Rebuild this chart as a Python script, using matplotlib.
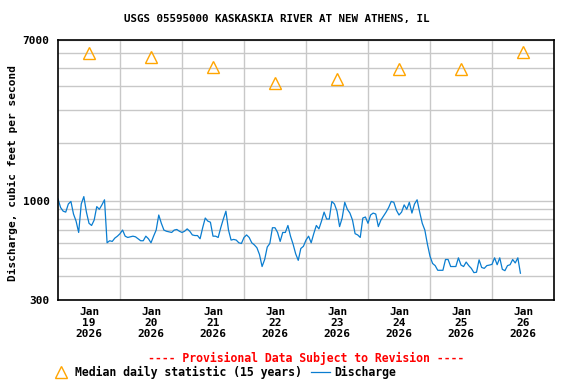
import matplotlib
matplotlib.use("Agg")
import matplotlib.pyplot as plt
import pandas as pd

plt.rcParams['font.family'] = ['DejaVu Sans Mono']
plt.rcParams['font.weight'] = 'bold'

title = "USGS 05595000 KASKASKIA RIVER AT NEW ATHENS, IL"
start = "2026-01-19 00:00"

# hourly discharge, cfs
flow = [1020, 920, 880, 870, 960, 990, 850, 780, 680, 960, 1050, 870,
        760, 740, 790, 930, 900, 950, 1010, 600, 615, 610, 635, 650,
        670, 700, 650, 640, 645, 650, 645, 630, 615, 615, 650, 630,
        600, 650, 700, 840, 760, 700, 690, 685, 680, 700, 705, 690,
        680, 690, 710, 690, 660, 655, 655, 630, 720, 810, 780, 770,
        650, 650, 640, 720, 800, 880, 700, 620, 625, 620, 600, 595,
        640, 660, 640, 600, 585, 565, 520, 450, 490, 570, 595, 720,
        720, 680, 610, 680, 680, 740, 650, 590, 525, 485, 560, 575,
        620, 650, 600, 670, 740, 710, 780, 870, 800, 800, 990, 960,
        880, 730, 810, 980, 900, 860, 790, 670, 660, 640, 810, 820,
        760, 840, 860, 850, 730, 790, 830, 870, 920, 990, 980, 890,
        840, 870, 950, 900, 980, 860, 960, 1010, 870, 760, 700, 590,
        510, 467, 455, 430, 430, 430, 490, 490, 450, 450, 450, 500,
        458, 450, 475, 455, 440, 418, 420, 488, 445, 440, 455, 458,
        462, 500, 460, 500, 435, 428, 455, 460, 490, 470, 500, 415]

median_days = ["2026-01-19 12:00", "2026-01-20 12:00", "2026-01-21 12:00",
               "2026-01-22 12:00", "2026-01-23 12:00", "2026-01-24 12:00",
               "2026-01-25 12:00", "2026-01-26 12:00"]
median_vals = [5950, 5700, 5050, 4170, 4350, 4950, 4950, 6050]

yticks = [300, 1000, 7000]
ygrid = [400, 500, 600, 700, 800, 900, 2000, 3000, 4000, 5000, 6000]

times = pd.date_range(start, periods=len(flow), freq="h")
mdays = pd.to_datetime(median_days)

fig = plt.figure(figsize=(5.76, 3.84), dpi=100)
ax = fig.add_axes([58 / 576, 84 / 384, 496 / 576, 260 / 384])

med, = ax.plot(mdays, median_vals, linestyle="none", marker="^", markersize=8,
               markerfacecolor="none", markeredgecolor="#FFA500", markeredgewidth=1.0,
               label="Median daily statistic (15 years)")
dis, = ax.plot(times, flow, color="#0a7dd0", lw=0.9, label="Discharge")

ax.set_yscale("log")
ax.set_ylim(300, 7000)
ax.set_yticks(yticks)
ax.set_yticklabels([str(v) for v in yticks], fontsize=8, fontweight="bold")
ax.set_yticks(ygrid, minor=True)
ax.yaxis.set_minor_formatter(matplotlib.ticker.NullFormatter())

ax.set_xlim(pd.Timestamp("2026-01-19"), pd.Timestamp("2026-01-27"))
ax.set_xticks(mdays)
ax.set_xticklabels(["Jan\n%d\n2026" % d.day for d in mdays], fontsize=8,
                   fontweight="bold", linespacing=1.15)
ax.set_xticks(pd.date_range("2026-01-20", "2026-01-26", freq="D"), minor=True)

ax.grid(True, which="minor", color="#c8c8c8", lw=1.0)
ax.grid(True, which="major", axis="y", color="#c8c8c8", lw=1.0)
ax.set_axisbelow(True)
ax.tick_params(which="both", length=0)
ax.tick_params(axis="y", pad=6)
ax.tick_params(axis="x", pad=5)
for s in ax.spines.values():
    s.set_linewidth(1.2)

ax.set_ylabel("Discharge, cubic feet per second", fontsize=8, fontweight="bold")
ax.yaxis.set_label_coords(-0.081, 0.49)

fig.text(277 / 576, 1 - 19 / 384, title, ha="center", va="center",
         fontsize=7.8, fontweight="bold")
fig.text(306 / 576, 1 - 358 / 384, "---- Provisional Data Subject to Revision ----",
         ha="center", va="center", fontsize=8.3, fontweight="bold", color="red")
fig.legend(handles=[med, dis], loc="center", bbox_to_anchor=(224 / 576, 1 - 372 / 384),
           ncol=2, frameon=False, fontsize=8.3, handlelength=1.6, handletextpad=0.4,
           columnspacing=0.8, borderpad=0, borderaxespad=0)

fig.savefig("out.png", dpi=100)
